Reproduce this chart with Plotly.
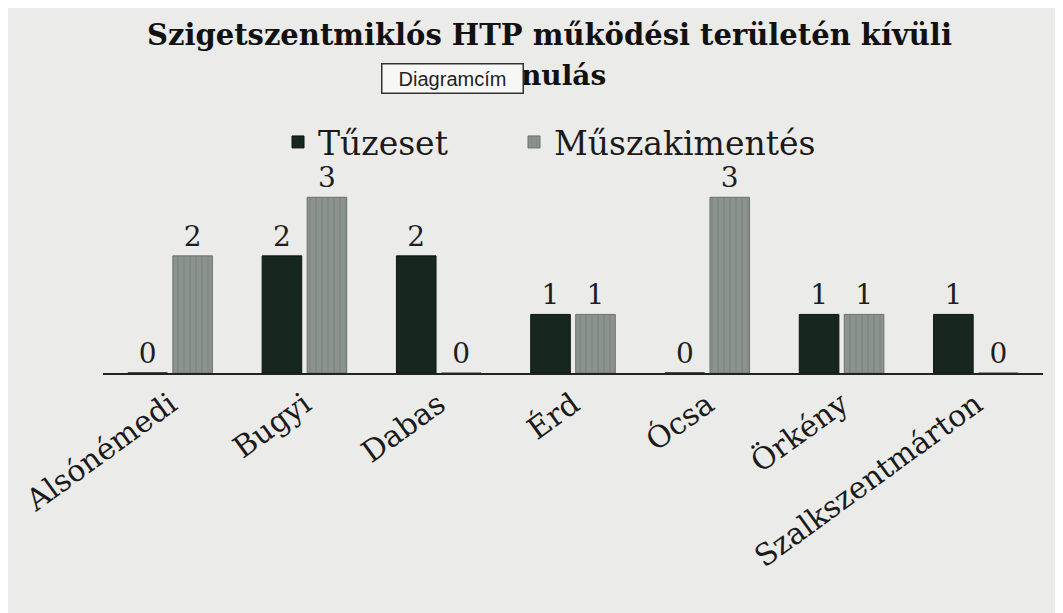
import plotly.graph_objects as go

categories = ["Alsónémedi", "Bugyi", "Dabas", "Érd", "Ócsa", "Örkény", "Szalkszentmárton"]
tuzeset = [0, 2, 2, 1, 0, 1, 1]
muszaki = [2, 3, 0, 1, 3, 1, 0]
title_line1 = "Szigetszentmiklós HTP működési területén kívüli"
title_line2 = "kivonulás"

serif = "DejaVu Serif, Liberation Serif, serif"

W, H = 1063, 613
ML, MR, MT, MB = 95, 28, 160, 248
PH = H - MT - MB
PW = W - ML - MR


def px_x(x):
    return (x - ML) / PW


def px_y(y):
    return (H - MB - y) / PH


fig = go.Figure()
fig.add_trace(go.Bar(
    name="Tűzeset", x=categories, y=tuzeset, legend="legend",
    marker=dict(color="#17261f", line=dict(color="#0d1612", width=1)),
    text=tuzeset, textposition="outside", cliponaxis=False,
    textfont=dict(family=serif, size=28, color="#1e1e1e"),
))
fig.add_trace(go.Bar(
    name="Műszakimentés", x=categories, y=muszaki, legend="legend2",
    marker=dict(color="#8c938e", line=dict(color="#6c736e", width=1),
                pattern=dict(shape="|", fgcolor="#737a75", size=6, solidity=0.25)),
    text=muszaki, textposition="outside", cliponaxis=False,
    textfont=dict(family=serif, size=28, color="#1e1e1e"),
))

legend_style = dict(
    orientation="h", xanchor="left", yanchor="middle", y=px_y(134),
    font=dict(family=serif, size=33, color="#1a1a1a"),
    bgcolor="rgba(0,0,0,0)",
)

fig.update_layout(
    width=W, height=H,
    paper_bgcolor="#ebebe9", plot_bgcolor="#ebebe9",
    margin=dict(l=ML, r=MR, t=MT, b=MB),
    barmode="group", bargap=0.33, bargroupgap=0.12,
    legend=dict(x=px_x(270), **legend_style),
    legend2=dict(x=px_x(506), **legend_style),
    showlegend=True,
    font=dict(family=serif, color="#1a1a1a"),
)
fig.update_xaxes(
    showline=True, linecolor="#222222", linewidth=2,
    ticks="", tickangle=-36, ticklabelstandoff=0,
    tickfont=dict(family=serif, size=30, color="#1a1a1a"),
)
fig.update_yaxes(
    range=[0, 3.5], visible=False, showgrid=False, zeroline=False,
)
fig.add_annotation(
    text="<b>" + title_line1 + "</b>", xref="paper", yref="paper",
    x=px_x(541), y=px_y(27), xanchor="center", yanchor="middle", showarrow=False,
    font=dict(family=serif, size=29, color="#111111"),
)
fig.add_annotation(
    text="<b>" + title_line2 + "</b>", xref="paper", yref="paper",
    x=px_x(600), y=px_y(67), xanchor="right", yanchor="middle", showarrow=False,
    font=dict(family=serif, size=28, color="#111111"),
)
fig.add_annotation(
    text="Diagramcím", xref="paper", yref="paper",
    x=px_x(444), y=px_y(70), xanchor="center", yanchor="middle", showarrow=False,
    width=136, height=24, align="center", valign="middle",
    font=dict(family="Liberation Sans, DejaVu Sans, sans-serif", size=20, color="#222222"),
    bgcolor="#f7f7f5", bordercolor="#333333", borderwidth=1.5, borderpad=2,
)

fig.write_html("out.html")
